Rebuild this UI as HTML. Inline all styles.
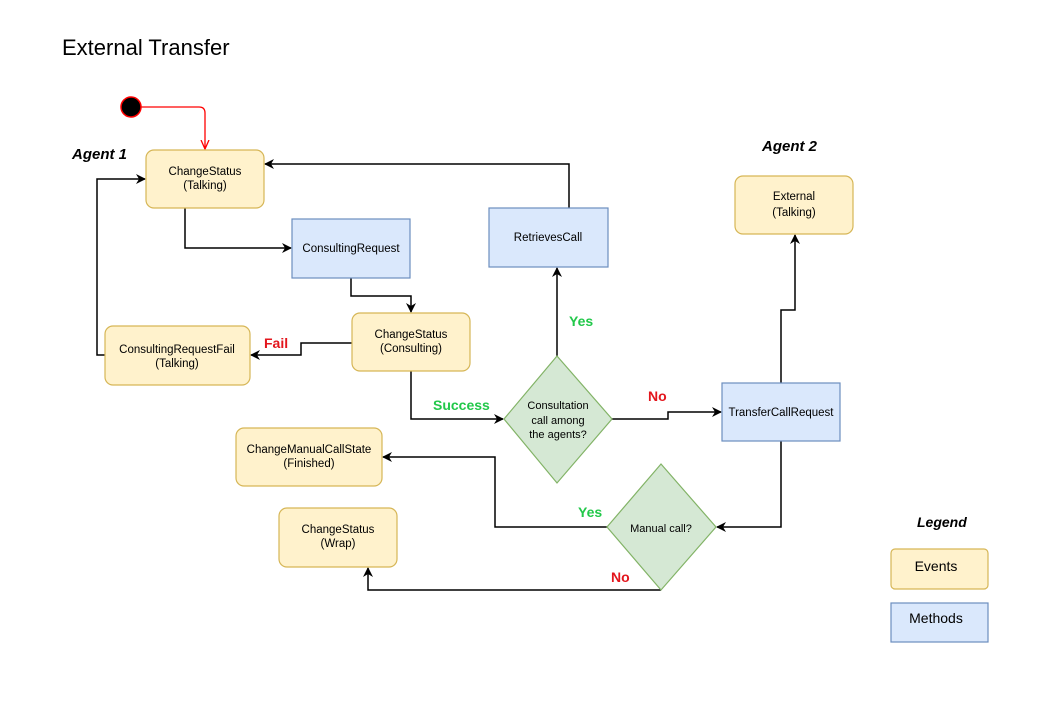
<!DOCTYPE html>
<html><head><meta charset="utf-8"><style>
html,body{margin:0;padding:0;background:#fff;}
svg{display:block;font-family:"Liberation Sans",sans-serif;}
</style></head><body>
<svg width="1060" height="706" viewBox="0 0 1060 706" xmlns="http://www.w3.org/2000/svg">
<defs>
<marker id="a" markerWidth="10" markerHeight="10" refX="9" refY="5" orient="auto" markerUnits="userSpaceOnUse"><path d="M0,0 L10,5 L0,10 L3,5 z" fill="#000"/></marker>
<marker id="r" markerWidth="10" markerHeight="10" refX="9" refY="5" orient="auto" markerUnits="userSpaceOnUse"><path d="M0,1 L9,5 L0,9" fill="none" stroke="#f00" stroke-width="1.3"/></marker>
</defs>
<text x="62" y="55" font-size="22" fill="#000">External Transfer</text>
<text x="72" y="159" font-size="15" font-weight="bold" font-style="italic">Agent 1</text>
<text x="762" y="151" font-size="15" font-weight="bold" font-style="italic">Agent 2</text>
<text x="917" y="527" font-size="14" font-weight="bold" font-style="italic">Legend</text>

<circle cx="131" cy="107" r="10" fill="#000" stroke="#f00" stroke-width="1.5"/>
<path d="M141,107 H199 Q205,107 205,113 V149" fill="none" stroke="#f00" stroke-width="1.3" marker-end="url(#r)"/>

<g fill="none" stroke="#000" stroke-width="1.5">
<path d="M185,208 V248 H291" marker-end="url(#a)"/>
<path d="M351,278 V296 H411 V312" marker-end="url(#a)"/>
<path d="M352,343 H301 V355 H251" marker-end="url(#a)"/>
<path d="M105,355 H97 V179 H145" marker-end="url(#a)"/>
<path d="M411,371 V419 H503" marker-end="url(#a)"/>
<path d="M557,356 V268" marker-end="url(#a)"/>
<path d="M569,208 V164 H265" marker-end="url(#a)"/>
<path d="M612,419 H668 V412 H721" marker-end="url(#a)"/>
<path d="M781,383 V310 H795 V235" marker-end="url(#a)"/>
<path d="M781,441 V527 H717" marker-end="url(#a)"/>
<path d="M607,527 H495 V457 H383" marker-end="url(#a)"/>
<path d="M661,590 H368 V568" marker-end="url(#a)"/>
</g>

<g stroke="#d6b656" fill="#fff2cc" stroke-width="1.2">
<rect x="146" y="150" width="118" height="58" rx="8"/>
<rect x="352" y="313" width="118" height="58" rx="8"/>
<rect x="105" y="326" width="145" height="59" rx="8"/>
<rect x="735" y="176" width="118" height="58" rx="8"/>
<rect x="236" y="428" width="146" height="58" rx="8"/>
<rect x="279" y="508" width="118" height="59" rx="8"/>
<rect x="891" y="549" width="97" height="40" rx="4"/>
</g>
<g stroke="#6c8ebf" fill="#dae8fc" stroke-width="1.2">
<rect x="292" y="219" width="118" height="59"/>
<rect x="489" y="208" width="119" height="59"/>
<rect x="722" y="383" width="118" height="58"/>
<rect x="891" y="603" width="97" height="39"/>
</g>
<g stroke="#82b366" fill="#d5e8d4" stroke-width="1.2">
<path d="M557,356 L612,419 L557,483 L504,419 z"/>
<path d="M661,464 L716,527 L661,590 L607,527 z"/>
</g>

<g font-size="11.5" text-anchor="middle" fill="#000">
<text x="205" y="175">ChangeStatus</text><text x="205" y="189">(Talking)</text>
<text x="351" y="252">ConsultingRequest</text>
<text x="411" y="338">ChangeStatus</text><text x="411" y="352">(Consulting)</text>
<text x="177" y="353">ConsultingRequestFail</text><text x="177" y="367">(Talking)</text>
<text x="548" y="241">RetrievesCall</text>
<text x="794" y="200">External</text><text x="794" y="216">(Talking)</text>
<text x="781" y="416">TransferCallRequest</text>
<text x="558" y="409" font-size="11">Consultation</text><text x="558" y="424" font-size="11">call among</text><text x="558" y="438" font-size="11">the agents?</text>
<text x="661" y="532" font-size="11">Manual call?</text>
<text x="309" y="453">ChangeManualCallState</text><text x="309" y="467">(Finished)</text>
<text x="338" y="533">ChangeStatus</text><text x="338" y="547">(Wrap)</text>
<text x="936" y="571" font-size="14">Events</text>
<text x="936" y="623" font-size="14">Methods</text>
</g>
<g font-size="14" font-weight="bold">
<text x="264" y="348" fill="#e3161d">Fail</text>
<text x="433" y="410" fill="#22c84a">Success</text>
<text x="569" y="326" fill="#22c84a">Yes</text>
<text x="648" y="401" fill="#e3161d">No</text>
<text x="578" y="517" fill="#22c84a">Yes</text>
<text x="611" y="582" fill="#e3161d">No</text>
</g>
</svg>
</body></html>
